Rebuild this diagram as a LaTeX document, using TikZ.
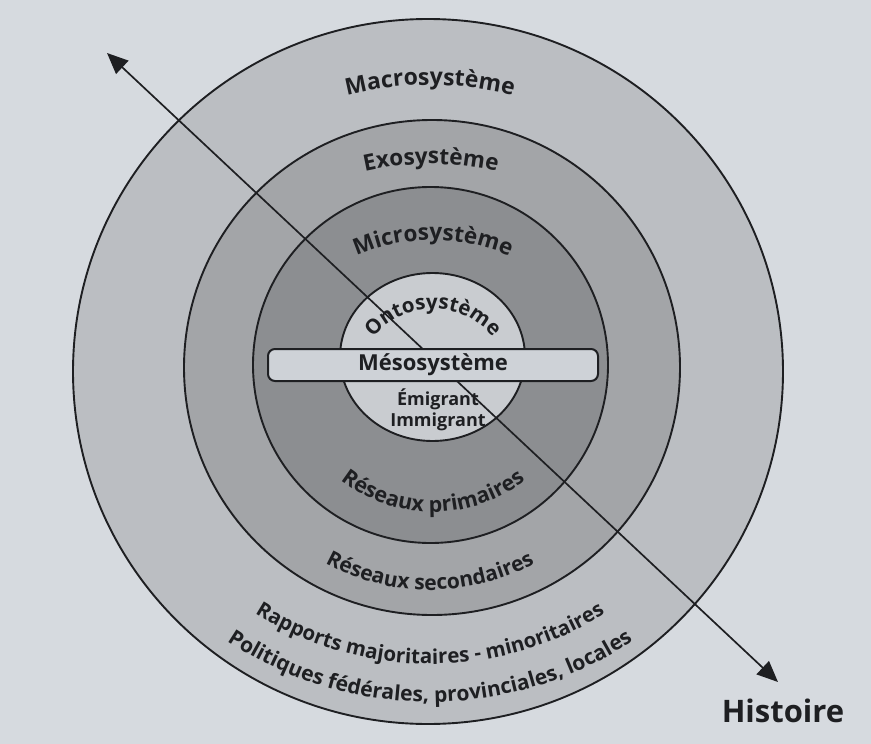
\documentclass[tikz,border=0pt]{standalone}
\usepackage{fontspec}
\setmainfont{Open Sans}
\usetikzlibrary{decorations.text,arrows.meta}
\definecolor{pagebg}{HTML}{D6DADF}
\definecolor{ringA}{HTML}{BBBEC2}
\definecolor{ringB}{HTML}{A3A5A8}
\definecolor{ringC}{HTML}{8C8E91}
\definecolor{ringD}{HTML}{C9CCD0}
\definecolor{barfill}{HTML}{CED2D7}
\definecolor{ink}{HTML}{1E1F22}
% top arc label: centre x, baseline y (image), radius, half angle, text
\newcommand\TopArc[5]{%
  \path[decorate,decoration={text along path,text align=center,text={#5}}]
    (#1,-#2-#3) ++(90+#4:#3) arc[start angle=90+#4,end angle=90-#4,radius=#3];}
% bottom arc label
\newcommand\BotArc[5]{%
  \path[decorate,decoration={text along path,text align=center,text={#5}}]
    (#1,-#2+#3) ++(270-#4:#3) arc[start angle=270-#4,end angle=270+#4,radius=#3];}
\begin{document}
\begin{tikzpicture}[x=1pt,y=1pt,
  ring/.style={draw=ink,line width=1.9pt},
  bar/.style={draw=ink,line width=2pt,fill=barfill,rounded corners=7pt},
  axis/.style={draw=ink,line width=1.7pt,{Triangle[length=21pt,width=18pt]}-{Triangle[length=21pt,width=18pt]}},
  plain/.style={text=ink,inner sep=0pt}]
\useasboundingbox (0,0) rectangle (871,-744);
\fill[pagebg] (0,0) rectangle (871,-744);
% rings
\path[ring,fill=ringA] (428,-371.5) ellipse[x radius=355,y radius=352.5];
\path[ring,fill=ringB] (432,-367.5) ellipse[x radius=248,y radius=247.5];
\path[ring,fill=ringC] (430.5,-365) ellipse[x radius=177.5,y radius=178];
\path[ring,fill=ringD] (432.5,-357) ellipse[x radius=92.5,y radius=84];
% history axis
\coordinate (histA) at (107,-53);
\coordinate (histB) at (778,-682);
\draw[axis] (histA) -- (histB);
% mesosystem bar
\node[bar,minimum width=330pt,minimum height=32pt,inner sep=0pt] (meso) at (433,-365) {};
\node[plain,font=\fontsize{22}{26}\selectfont\bfseries] (mesotxt) at (meso.center) {Mésosystème};
\node[plain,font=\fontsize{18}{22}\selectfont\bfseries,anchor=base] (emig) at (438,-405) {Émigrant};
\node[plain,font=\fontsize{18}{22}\selectfont\bfseries,anchor=base] (immig) at (438,-426) {Immigrant};
\node[plain,font=\fontsize{31}{35}\selectfont\bfseries] (hist) at (783,-711) {Histoire};
% arc labels
\TopArc{430}{85}{340}{30}{|\color{ink}\fontsize{23}{27}\selectfont\bfseries|Macrosystème}
\TopArc{431}{164}{300}{30}{|\color{ink}\fontsize{22.5}{27}\selectfont\bfseries|Exosystème}
\TopArc{433}{240}{190}{45}{|\color{ink}\fontsize{22.5}{27}\selectfont\bfseries|Microsystème}
\TopArc{433}{309}{77}{85}{|\color{ink}\fontsize{20.5}{24}\selectfont\bfseries|Ontosystème}
\BotArc{433}{512}{150}{50}{|\color{ink}\fontsize{21.5}{25}\selectfont\bfseries|Réseaux primaires}
\BotArc{430}{590}{220}{40}{|\color{ink}\fontsize{21}{25}\selectfont\bfseries|Réseaux secondaires}
\BotArc{430}{664}{330}{40}{|\color{ink}\fontsize{20.5}{24}\selectfont\bfseries|Rapports majoritaires - minoritaires}
\BotArc{430}{702}{368}{40}{|\color{ink}\fontsize{21}{25}\selectfont\bfseries|Politiques fédérales, provinciales, locales}
\end{tikzpicture}
\end{document}
